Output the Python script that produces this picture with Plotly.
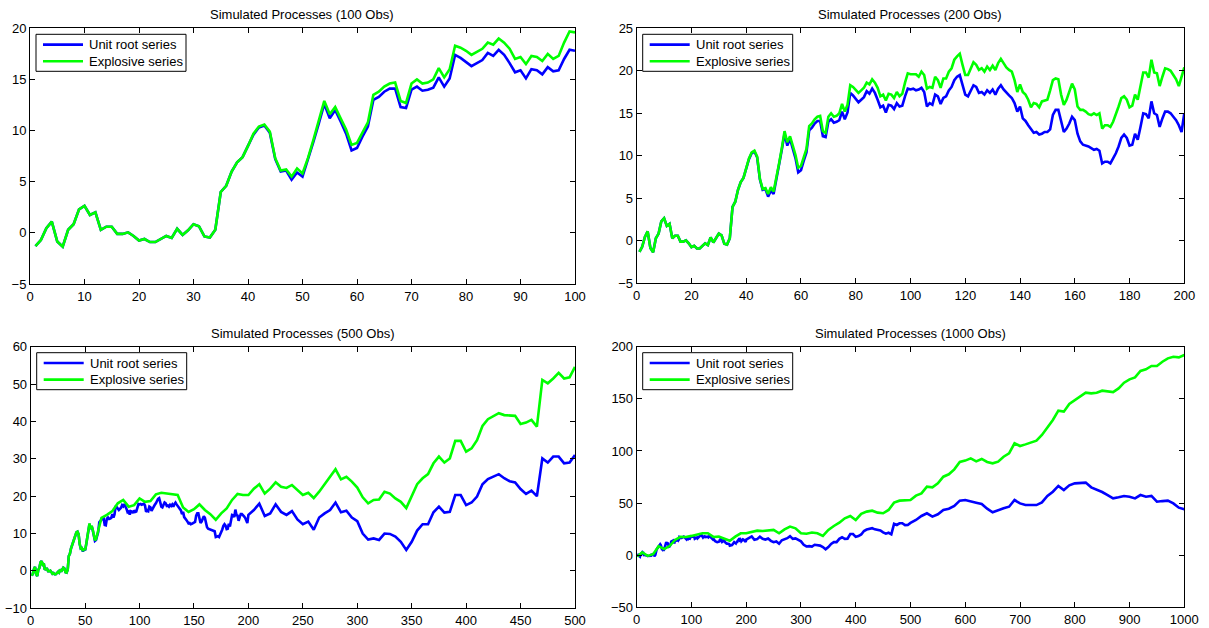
import plotly.graph_objects as go

# ---------------- data ----------------
# Unit-root random walk (one path, shared by all panels)
t_unit = list(range(1, 201)) + list(range(205, 501, 5)) + list(range(510, 1001, 10))
unit_root = [
    # t = 1..50
    -1.3, -0.7, 0.45, 1.1, -0.85, -1.35, 0.3, 0.85, 2.3, 2.65,
    1.75, 2.0, 0.3, 0.6, 0.6, -0.1, -0.1, 0.05, -0.3, -0.75,
    -0.6, -0.9, -0.9, -0.6, -0.3, -0.5, 0.4, -0.2, 0.25, 0.85,
    0.65, -0.35, -0.45, 0.3, 4.0, 4.6, 6.0, 6.9, 7.4, 8.5,
    9.6, 10.3, 10.5, 9.8, 7.2, 6.0, 6.1, 5.2, 5.9, 5.5,
    # t = 51..100
    7.1, 8.9, 10.7, 12.6, 11.2, 12.0, 10.9, 9.7, 8.05, 8.3,
    9.4, 10.4, 13.0, 13.3, 13.8, 14.1, 14.1, 12.3, 12.2, 14.0,
    14.3, 13.9, 14.0, 14.2, 15.2, 14.3, 15.1, 17.4, 17.1, 16.7,
    16.3, 16.6, 16.9, 17.6, 17.3, 17.9, 17.4, 16.6, 15.7, 15.9,
    15.1, 16.0, 15.9, 15.5, 16.2, 15.8, 15.9, 17.0, 17.9, 17.8,
    # t = 101..150
    17.9, 17.7, 17.8, 18.0, 17.5, 15.8, 16.2, 16.0, 17.2, 17.0,
    16.1, 16.8, 17.0, 17.7, 18.1, 18.9, 19.3, 19.5, 18.3, 17.2,
    17.0, 17.7, 18.3, 18.1, 17.4, 17.5, 17.2, 17.7, 17.4, 17.8,
    17.2, 17.9, 18.3, 17.8, 17.4, 17.1, 16.8, 16.2, 15.2, 15.8,
    14.4, 14.1, 13.6, 13.2, 12.7, 12.8, 12.5, 12.6, 12.8, 12.8,
    # t = 151..200
    13.1, 14.8, 15.4, 15.4, 14.0, 12.8, 13.2, 13.8, 14.6, 14.2,
    12.6, 11.7, 11.3, 11.2, 11.1, 10.9, 10.7, 10.8, 10.6, 9.1,
    9.3, 9.3, 9.1, 9.7, 10.3, 11.1, 12.1, 12.5, 12.1, 11.2,
    11.3, 12.6, 11.9, 13.4, 15.0, 14.9, 14.4, 16.4, 15.0, 14.8,
    13.4, 14.4, 15.2, 15.2, 15.0, 14.6, 14.2, 13.6, 12.8, 15.0,
    # t = 205..500 (step 5)
    16.3, 18.0, 14.7, 15.4, 17.8, 15.8, 15.0, 16.0, 13.8,
    12.5, 13.2, 11.0, 14.3, 15.4, 16.3, 18.3, 15.7, 16.1, 14.3,
    13.3, 10.0, 8.4, 8.7, 8.3, 10.0, 9.9, 9.2, 7.8, 5.6,
    7.8, 10.8, 12.5, 12.5, 15.7, 17.2, 15.6, 15.8, 20.3, 20.3,
    17.6, 18.3, 19.9, 23.2, 24.6, 25.2, 25.9, 24.8, 24.0, 23.7,
    21.9, 20.6, 21.5, 20.0, 30.1, 29.0, 30.6, 30.6, 28.8, 29.0, 31.0,
    # t = 510..1000 (step 10)
    33.8, 37.6, 40.2, 37.0, 39.2, 43.3, 44.6, 47.2, 52.3, 52.9,
    51.3, 50.4, 49.1, 44.6, 41.1, 43.3, 45.0, 46.5, 52.9, 49.7,
    48.1, 48.1, 48.1, 50.7, 56.8, 60.9, 66.4, 62.5, 67.0, 68.9,
    68.9, 69.6, 65.1, 63.2, 60.6, 57.7, 54.5, 55.5, 56.8, 56.1,
    54.5, 57.7, 56.1, 56.8, 51.3, 51.9, 52.3, 49.7, 45.6, 44.0,
]

# Explosive series, 100 observations
t_exp_100 = list(range(1, 101))
explosive_100 = [
    -1.3, -0.7, 0.45, 1.1, -0.85, -1.35, 0.3, 0.85, 2.3, 2.65,
    1.75, 2.0, 0.3, 0.6, 0.6, -0.1, -0.1, 0.05, -0.3, -0.75,
    -0.6, -0.9, -0.9, -0.6, -0.3, -0.5, 0.4, -0.2, 0.25, 0.85,
    0.65, -0.35, -0.45, 0.3, 4.0, 4.6, 6.0, 6.9, 7.4, 8.5,
    9.7, 10.4, 10.6, 9.9, 7.3, 6.1, 6.2, 5.5, 6.3, 5.8,
    7.3, 9.1, 10.9, 12.9, 11.6, 12.3, 11.2, 10.1, 8.6, 8.8,
    9.8, 10.8, 13.5, 13.8, 14.3, 14.6, 14.7, 12.9, 12.7, 14.6,
    15.0, 14.6, 14.7, 15.0, 16.1, 15.2, 16.0, 18.3, 18.1, 17.8,
    17.4, 17.7, 18.0, 18.6, 18.4, 19.0, 18.6, 18.0, 17.0, 17.2,
    16.5, 17.3, 17.2, 16.8, 17.5, 17.0, 17.3, 18.6, 19.7, 19.6,
]

# Explosive series, 200 observations
t_exp_200 = list(range(1, 201))
explosive_200 = [
    -1.3, -0.7, 0.45, 1.1, -0.85, -1.35, 0.3, 0.85, 2.3, 2.65,
    1.75, 2.0, 0.3, 0.6, 0.6, -0.1, -0.1, 0.05, -0.3, -0.75,
    -0.6, -0.9, -0.9, -0.6, -0.3, -0.5, 0.4, -0.2, 0.25, 0.85,
    0.65, -0.35, -0.45, 0.3, 4.0, 4.6, 6.0, 6.9, 7.4, 8.5,
    9.7, 10.4, 10.6, 9.9, 7.3, 6.1, 6.2, 5.5, 6.3, 5.8,
    7.3, 9.1, 10.9, 12.9, 11.6, 12.3, 11.2, 10.1, 8.6, 8.8,
    9.8, 10.8, 13.5, 13.8, 14.3, 14.6, 14.7, 12.9, 12.7, 14.6,
    15.0, 14.6, 14.7, 15.0, 16.1, 15.2, 16.0, 18.3, 18.1, 17.8,
    17.4, 17.7, 18.0, 18.6, 18.4, 19.0, 18.6, 18.0, 17.0, 17.2,
    16.5, 17.3, 17.2, 16.8, 17.5, 17.0, 17.3, 18.6, 19.7, 19.6,
    19.6, 19.6, 19.3, 19.9, 19.5, 17.9, 18.1, 18.0, 19.3, 18.9,
    18.0, 19.1, 19.1, 19.9, 20.3, 21.3, 21.7, 22.0, 20.7, 19.5,
    19.5, 20.3, 21.0, 20.7, 20.1, 20.3, 19.9, 20.5, 20.1, 20.6,
    20.1, 20.9, 21.4, 20.9, 20.4, 20.1, 19.9, 18.9, 17.5, 18.4,
    17.5, 17.2, 16.6, 15.7, 16.2, 16.1, 15.7, 16.4, 16.5, 16.6,
    17.7, 18.9, 19.1, 19.0, 17.2, 16.0, 16.6, 17.5, 18.5, 17.8,
    15.8, 15.4, 15.4, 15.2, 14.9, 14.8, 15.0, 14.8, 15.0, 13.2,
    13.6, 13.6, 13.4, 14.0, 14.8, 15.8, 16.8, 17.0, 16.6, 15.7,
    15.9, 17.2, 16.6, 18.3, 19.8, 19.8, 19.2, 21.3, 19.8, 19.7,
    18.2, 19.3, 20.3, 20.2, 20.0, 19.5, 19.0, 18.2, 19.3, 20.4,
]

# Explosive series, 500 observations
t_exp_500 = list(range(1, 61)) + list(range(65, 501, 5))
explosive_500 = [
    -1.3, -0.7, 0.45, 1.1, -0.85, -1.35, 0.3, 0.85, 2.3, 2.65,
    1.75, 2.0, 0.3, 0.6, 0.6, -0.1, -0.1, 0.05, -0.3, -0.75,
    -0.6, -0.9, -0.9, -0.6, -0.3, -0.5, 0.4, -0.2, 0.25, 0.85,
    0.65, -0.35, -0.45, 0.3, 4.0, 4.6, 6.0, 6.9, 7.4, 8.5,
    9.6, 10.3, 10.5, 9.8, 7.2, 6.0, 6.1, 5.3, 6.0, 5.6,
    7.2, 9.0, 10.8, 12.7, 11.3, 12.1, 11.0, 9.8, 8.2, 8.5,
    14.2, 15.0, 16.0, 18.1, 19.0, 17.2, 17.6, 19.4, 18.5, 18.7,
    20.5, 20.9, 20.7, 20.5, 20.3, 17.0, 15.8, 16.5, 17.8, 16.3,
    15.2, 13.7, 15.4, 16.7, 19.0, 20.6, 20.3, 20.3, 22.0, 23.2,
    20.7, 22.0, 23.7, 22.5, 22.2, 23.0, 21.6,
    20.3, 20.9, 19.5, 21.2, 23.1, 25.0, 27.2, 24.5, 25.2, 23.9,
    22.3, 19.7, 18.1, 19.0, 19.1, 21.2, 20.7, 19.4, 18.5, 16.8,
    19.9, 23.2, 24.8, 25.9, 28.8, 30.6, 29.0, 30.1, 34.8, 34.8,
    31.9, 32.8, 35.0, 38.8, 40.6, 41.3, 42.2, 41.7, 41.7, 41.5,
    39.3, 39.7, 40.4, 38.6, 51.1, 50.2, 51.5, 53.0, 51.5, 51.8, 54.6,
]

# Explosive series, 1000 observations
t_exp_1000 = [1] + list(range(10, 1001, 10))
explosive_1000 = [
    -1.3,
    2.6, -0.7, 0.9, 8.6, 5.8, 8.8, 14.6, 17.6, 17.5, 18.5,
    19.4, 21.0, 21.0, 17.5, 17.8, 15.5, 13.9, 17.8, 21.0, 21.0,
    22.6, 23.5, 23.2, 23.5, 24.2, 21.0, 24.8, 27.4, 25.8, 21.0,
    20.5, 21.7, 21.0, 18.5, 24.2, 28.0, 31.2, 35.4, 37.6, 33.8,
    39.6, 41.8, 42.7, 40.8, 40.2, 43.4, 50.4, 52.3, 52.9, 52.9,
    57.1, 59.3, 65.7, 65.1, 68.9, 75.3, 77.6, 82.3, 89.4, 90.7,
    92.9, 90.0, 92.3, 89.4, 88.1, 89.7, 94.5, 97.7, 107.3, 104.7,
    106.3, 107.9, 109.8, 115.3, 122.6, 129.7, 138.6, 137.7, 145.0, 148.9,
    152.0, 155.9, 155.2, 155.9, 157.8, 156.8, 156.5, 160.0, 165.5, 168.7,
    170.6, 176.7, 178.3, 181.5, 181.5, 185.6, 188.8, 190.4, 189.8, 192.0,
]

series_names = ["Unit root series", "Explosive series"]
panel_obs = [100, 200, 500, 1000]
explosive_x = [t_exp_100, t_exp_200, t_exp_500, t_exp_1000]
explosive_y = [explosive_100, explosive_200, explosive_500, explosive_1000]
x_ticks = [list(range(0, 101, 10)), list(range(0, 201, 20)),
           list(range(0, 501, 50)), list(range(0, 1001, 100))]
y_ranges = [[-5, 20], [-5, 25], [-10, 60], [-50, 200]]
y_ticks = [list(range(-5, 21, 5)), list(range(-5, 26, 5)),
           list(range(-10, 61, 10)), list(range(-50, 201, 50))]
titles = ["Simulated Processes (%d Obs)" % n for n in panel_obs]

# ---------------- layout geometry (pixels in a 1209 x 628 canvas) ----------------
W, H = 1209, 628
x_dom_px = [(30, 575), (636.7, 1184.3), (30.7, 575), (636.7, 1184.3)]
y_dom_px = [(28.3, 284), (28.3, 283.3), (346.7, 608.3), (346.7, 607.3)]

FONT = "Liberation Sans, Arial, Helvetica, sans-serif"
FS = 13
BLUE = "#0000FF"
GREEN = "#00FF00"
LW = 2.6
colors = [BLUE, GREEN]


def px(xp):
    return xp / W


def py(yp):
    return 1 - yp / H


fig = go.Figure()
shapes = []
annotations = []
layout = dict(
    template="none",
    width=W, height=H, autosize=False,
    margin=dict(l=0, r=0, t=0, b=0, pad=0),
    paper_bgcolor="white", plot_bgcolor="white",
    font=dict(family=FONT, size=FS, color="black"),
    showlegend=False,
)

for i in range(4):
    n = i + 1
    sfx = "" if n == 1 else str(n)
    xa, ya = "x" + sfx, "y" + sfx
    T = panel_obs[i]
    ux = [t for t in t_unit if t <= T]
    uy = unit_root[:len(ux)]
    fig.add_trace(go.Scatter(x=ux, y=uy, mode="lines", name=series_names[0],
                             line=dict(color=BLUE, width=LW), xaxis=xa, yaxis=ya))
    fig.add_trace(go.Scatter(x=explosive_x[i], y=explosive_y[i], mode="lines",
                             name=series_names[1],
                             line=dict(color=GREEN, width=LW), xaxis=xa, yaxis=ya))
    x0, x1 = x_dom_px[i]
    y0, y1 = y_dom_px[i]
    axis_common = dict(showline=True, linecolor="black", linewidth=1, mirror="ticks",
                       ticks="inside", ticklen=5, tickwidth=1, tickcolor="black",
                       showgrid=False, zeroline=False, automargin=False,
                       tickfont=dict(family=FONT, size=FS, color="black"))
    layout["xaxis" + sfx] = dict(domain=[px(x0), px(x1)], range=[0, T],
                                 tickvals=x_ticks[i], anchor=ya, **axis_common)
    layout["yaxis" + sfx] = dict(domain=[py(y1), py(y0)], range=y_ranges[i],
                                 tickvals=y_ticks[i], anchor=xa, **axis_common)

    # MATLAB-style legend box in the upper-left corner of the axes
    bx0, by0 = x0 + 6, y0 + 6
    bx1, by1 = bx0 + 150, by0 + 37
    shapes.append(dict(type="rect", xref="paper", yref="paper",
                       x0=px(bx0), x1=px(bx1), y0=py(by1), y1=py(by0),
                       fillcolor="white", line=dict(color="black", width=1),
                       layer="above"))
    for k in range(2):
        yy = by0 + 10.3 + 16.6 * k
        shapes.append(dict(type="line", xref="paper", yref="paper",
                           x0=px(bx0 + 7), x1=px(bx0 + 47), y0=py(yy), y1=py(yy),
                           line=dict(color=colors[k], width=LW), layer="above"))
        annotations.append(dict(text=series_names[k], xref="paper", yref="paper",
                                x=px(bx0 + 51), y=py(yy), xanchor="left",
                                yanchor="middle", showarrow=False,
                                font=dict(family=FONT, size=FS, color="black")))

    annotations.append(dict(
        text=titles[i], xref="paper", yref="paper",
        x=px((x0 + x1) / 2), y=py(y0 - 13.5),
        xanchor="center", yanchor="middle", showarrow=False,
        font=dict(family=FONT, size=FS, color="black")))

layout["shapes"] = shapes
layout["annotations"] = annotations
fig.update_layout(**layout)
fig.write_html("out.html", config={"displayModeBar": False},
               post_script="document.body.style.margin='0';document.body.style.overflow='hidden';")
